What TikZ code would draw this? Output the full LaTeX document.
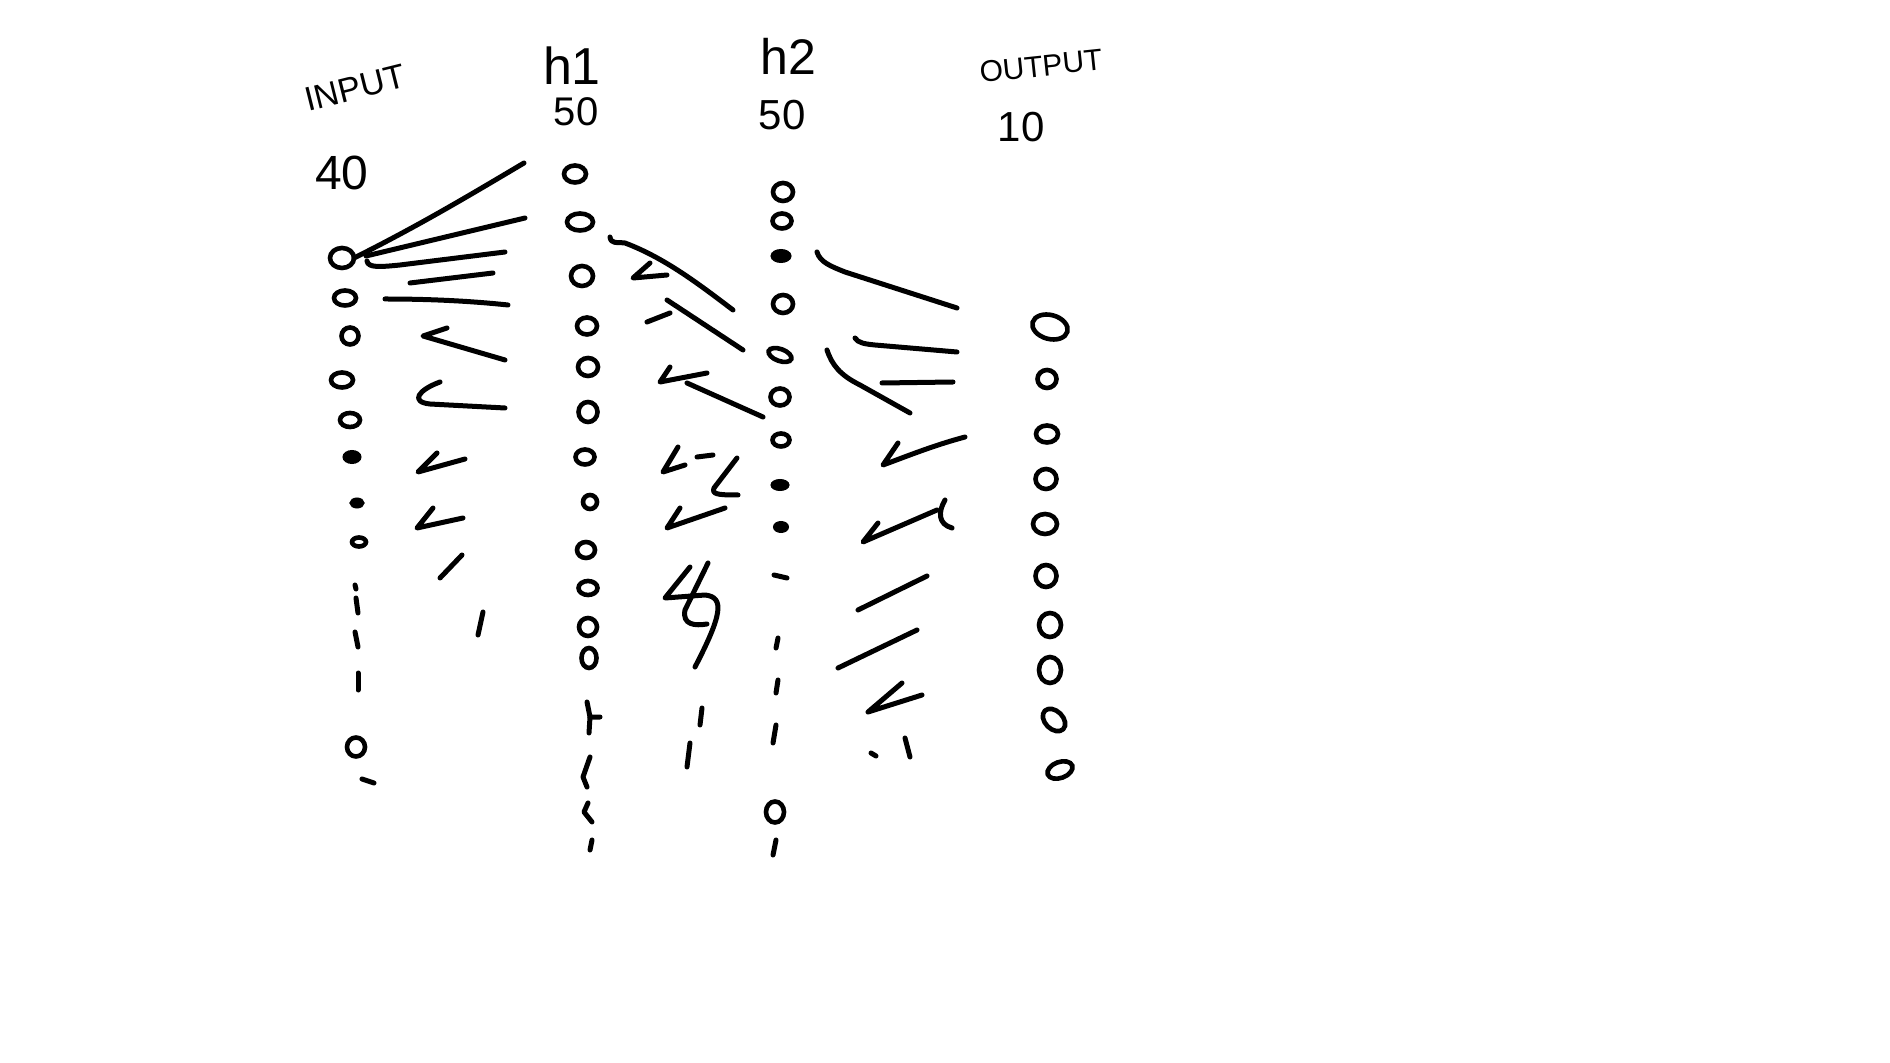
\documentclass[tikz,border=0pt]{standalone}
\usepackage{fontspec}
\setmainfont{Liberation Sans}
\usetikzlibrary{shapes.geometric}
\begin{document}
\begin{tikzpicture}[x=0.5pt,y=-0.5pt,
  neu/.style 2 args={draw, ellipse, line width=2.3pt, minimum width=#1, minimum height=#2, inner sep=0pt, outer sep=0pt},
  dotn/.style 2 args={draw, fill, ellipse, line width=1.5pt, minimum width=#1, minimum height=#2, inner sep=0pt, outer sep=0pt},
  stroke/.style={line width=2.5pt, line cap=round, line join=round},
  lbl/.style={inner sep=0pt, text=black}]
\useasboundingbox (0,0) rectangle (1890,1063);
\fill[white] (0,0) rectangle (1890,1063);

% labels
\node[lbl, font=\fontsize{17}{17}\selectfont, rotate=14] (tin) at (355,88) {INPUT};
\node[lbl, font=\fontsize{24}{24}\selectfont] (nin) at (342,173) {40};
\node[lbl, font=\fontsize{26}{26}\selectfont] (th1) at (572,66) {h1};
\node[lbl, font=\fontsize{20}{20}\selectfont] (nh1) at (576,112) {50};
\node[lbl, font=\fontsize{25}{25}\selectfont] (th2) at (788,56) {h2};
\node[lbl, font=\fontsize{21}{21}\selectfont] (nh2) at (782,115) {50};
\node[lbl, font=\fontsize{15}{15}\selectfont, rotate=6] (tout) at (1041,66) {OUTPUT};
\node[lbl, font=\fontsize{21}{21}\selectfont] (nout) at (1021,127) {10};

% input column
\node[neu={12pt}{10pt}] (i1) at (342,258) {};
\node[neu={11pt}{7.5pt}] (i2) at (345,298) {};
\node[neu={8.5pt}{8.5pt}] (i3) at (350,336) {};
\node[neu={11pt}{7.5pt}] (i4) at (342,380) {};
\node[neu={10pt}{7pt}] (i5) at (350,420) {};
\node[dotn={8pt}{5.5pt}] (i6) at (352,457) {};
\node[dotn={6pt}{4pt}] (i7) at (357,503) {};
\node[neu={7pt}{4.5pt}] (i8) at (359,542) {};
\node[neu={9pt}{9.5pt}] (i9) at (356,747) {};
\draw[stroke] (355,585) -- (356,589);
\draw[stroke] (356,598) -- (358,613);
\draw[stroke] (355,632) -- (358,647);
\draw[stroke] (358,673) -- (358,690);
\draw[stroke] (362,779) -- (374,783);

% h1 column
\node[neu={11pt}{8.5pt}] (a1) at (575,174) {};
\node[neu={13pt}{8.5pt}] (a2) at (580,222) {};
\node[neu={11pt}{10pt}] (a3) at (582,276) {};
\node[neu={10pt}{8.5pt}] (a4) at (587,326) {};
\node[neu={10pt}{9pt}] (a5) at (588,367) {};
\node[neu={9.5pt}{10pt}] (a6) at (588,412) {};
\node[neu={9.5pt}{7.5pt}] (a7) at (585,457) {};
\node[neu={7pt}{7pt}] (a8) at (590,502) {};
\node[neu={9pt}{8pt}] (a9) at (586,550) {};
\node[neu={9.5pt}{7pt}] (a10) at (588,588) {};
\node[neu={9pt}{9pt}] (a11) at (588,627) {};
\node[neu={7.5pt}{10pt}] (a12) at (589,658) {};
\draw[stroke] (587,702) -- (590,717) -- (600,717);
\draw[stroke] (590,717) -- (589,733);
\draw[stroke] (590,757) -- (583,777) -- (587,787);
\draw[stroke] (588,803) -- (584,812) -- (592,822);
\draw[stroke] (592,840) -- (590,850);

% h2 column
\node[neu={10pt}{9pt}] (b1) at (783,192) {};
\node[neu={9.5pt}{7.5pt}] (b2) at (782,221) {};
\node[dotn={9pt}{5.5pt}] (b3) at (781,256) {};
\node[neu={10pt}{9pt}] (b4) at (783,304) {};
\node[neu={12pt}{6pt}, rotate=-20] (b5) at (780,355) {};
\node[neu={9.5pt}{8.5pt}] (b6) at (780,397) {};
\node[neu={8.5pt}{6.5pt}] (b7) at (781,440) {};
\node[dotn={8pt}{4.5pt}] (b8) at (780,485) {};
\node[dotn={6.5pt}{4.5pt}] (b9) at (781,527) {};
\node[neu={9pt}{10.5pt}] (b10) at (775,812) {};
\draw[stroke] (774,575) -- (787,578);
\draw[stroke] (778,638) -- (776,648);
\draw[stroke] (778,680) -- (776,693);
\draw[stroke] (776,725) -- (773,743);
\draw[stroke] (776,840) -- (773,855);

% output column
\node[neu={18pt}{12pt}, rotate=-15] (o1) at (1050,327) {};
\node[neu={9.5pt}{9pt}] (o2) at (1047,379) {};
\node[neu={11pt}{8.5pt}] (o3) at (1047,434) {};
\node[neu={10.5pt}{10pt}] (o4) at (1046,479) {};
\node[neu={12pt}{10pt}] (o5) at (1045,524) {};
\node[neu={10.5pt}{11pt}] (o6) at (1046,576) {};
\node[neu={11pt}{12pt}] (o7) at (1050,625) {};
\node[neu={11pt}{13pt}] (o8) at (1050,670) {};
\node[neu={13pt}{9pt}, rotate=-45] (o9) at (1054,720) {};
\node[neu={13pt}{8pt}, rotate=20] (o10) at (1060,770) {};

% strokes between input and h1
\draw[stroke] (i1.east) .. controls (420,225) and (470,195) .. (524,163);
\draw[stroke] (366,256) -- (525,218);
\draw[stroke] (367,261) .. controls (368,268) and (380,267) .. (400,265) -- (505,252);
\draw[stroke] (410,283) -- (493,273);
\draw[stroke] (385,299) .. controls (430,299) and (470,301) .. (508,305);
\draw[stroke] (447,328) -- (423,336) -- (505,360);
\draw[stroke] (440,382) .. controls (418,390) and (410,402) .. (430,404) -- (505,408);
\draw[stroke] (437,453) -- (418,472) -- (465,459);
\draw[stroke] (433,508) -- (417,528) -- (463,518);
\draw[stroke] (462,555) -- (440,578);
\draw[stroke] (483,612) -- (478,635);

% strokes between h1 and h2
\draw[stroke] (610,237) .. controls (611,244) and (616,242) .. (625,243) .. controls (665,258) and (700,285) .. (733,310);
\draw[stroke] (650,263) -- (633,278) -- (667,275);
\draw[stroke] (647,322) -- (670,313);
\draw[stroke] (667,300) -- (743,350);
\draw[stroke] (670,367) -- (660,382) -- (707,373);
\draw[stroke] (687,383) -- (763,417);
\draw[stroke] (678,447) -- (663,472) -- (685,465);
\draw[stroke] (697,457) -- (713,455);
\draw[stroke] (737,458) -- (714,488) .. controls (712,494) and (716,495) .. (738,495);
\draw[stroke] (680,508) -- (667,528) -- (725,508);
\draw[stroke] (690,567) -- (665,598) -- (705,595) .. controls (725,597) and (722,615) .. (695,667);
\draw[stroke] (708,563) -- (685,610) .. controls (682,625) and (695,626) .. (707,624);
\draw[stroke] (702,708) -- (700,725);
\draw[stroke] (690,743) -- (687,767);

% strokes between h2 and output
\draw[stroke] (817,252) .. controls (820,262) and (830,266) .. (845,272) -- (957,308);
\draw[stroke] (855,338) .. controls (858,343) and (865,344) .. (875,345) -- (957,352);
\draw[stroke] (882,383) -- (953,382);
\draw[stroke] (827,350) .. controls (832,365) and (840,375) .. (860,385) -- (910,413);
\draw[stroke] (898,443) -- (883,465) .. controls (910,455) and (935,445) .. (965,437);
\draw[stroke] (878,523) -- (863,542) -- (937,510);
\draw[stroke] (945,500) .. controls (938,512) and (938,524) .. (952,528);
\draw[stroke] (927,576) -- (858,610);
\draw[stroke] (917,630) -- (838,668);
\draw[stroke] (902,683) -- (868,712) -- (922,695);
\draw[stroke] (871,753) -- (876,756);
\draw[stroke] (905,738) -- (910,757);
\end{tikzpicture}
\end{document}
